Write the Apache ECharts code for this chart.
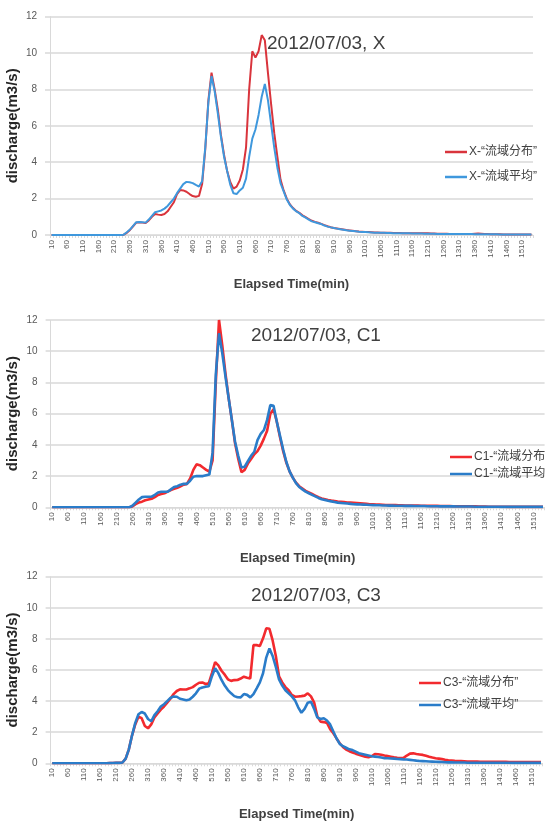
<!DOCTYPE html>
<html>
<head>
<meta charset="utf-8">
<script src="https://cdn.jsdelivr.net/npm/echarts@6/dist/echarts.min.js"></script>
<style>
html,body{margin:0;padding:0;background:#fff;}
#chart{width:545px;height:824px;}
</style>
</head>
<body>
<div id="chart"></div>
<script>
// Elapsed time categories (min)
var categories = [
  10,20,30,40,50,60,70,80,90,100,
  110,120,130,140,150,160,170,180,190,200,
  210,220,230,240,250,260,270,280,290,300,
  310,320,330,340,350,360,370,380,390,400,
  410,420,430,440,450,460,470,480,490,500,
  510,520,530,540,550,560,570,580,590,600,
  610,620,630,640,650,660,670,680,690,700,
  710,720,730,740,750,760,770,780,790,800,
  810,820,830,840,850,860,870,880,890,900,
  910,920,930,940,950,960,970,980,990,1000,
  1010,1020,1030,1040,1050,1060,1070,1080,1090,1100,
  1110,1120,1130,1140,1150,1160,1170,1180,1190,1200,
  1210,1220,1230,1240,1250,1260,1270,1280,1290,1300,
  1310,1320,1330,1340,1350,1360,1370,1380,1390,1400,
  1410,1420,1430,1440,1450,1460,1470,1480,1490,1500,
  1510,1520,1530,1540
];

var yTicks = [0, 2, 4, 6, 8, 10, 12];

var titles = ['2012/07/03, X', '2012/07/03, C1', '2012/07/03, C3'];
var namesDist = ['X-“流域分布”', 'C1-“流域分布”', 'C3-“流域分布”'];
var namesMean = ['X-“流域平均”', 'C1-“流域平均”', 'C3-“流域平均”'];

// Panel 1 : X
var xDist = [
  0,0,0,0,0,0,0,0,0,0,
  0,0,0,0,0,0,0,0,0,0,
  0,0,0,0.02,0.12,0.28,0.48,0.68,0.7,0.68,
  0.66,0.8,1.0,1.15,1.12,1.1,1.15,1.3,1.55,1.8,
  2.25,2.47,2.45,2.38,2.25,2.14,2.1,2.15,2.8,4.7,
  7.4,8.92,8.0,6.9,5.5,4.4,3.5,2.9,2.55,2.66,
  3.0,3.6,4.8,8.0,10.1,9.75,10.1,10.99,10.7,8.9,
  7.2,5.6,4.3,3.05,2.45,2.0,1.68,1.48,1.32,1.22,
  1.08,0.98,0.88,0.78,0.72,0.67,0.61,0.54,0.48,0.43,
  0.39,0.36,0.33,0.3,0.27,0.25,0.23,0.21,0.19,0.18,
  0.17,0.16,0.15,0.14,0.14,0.13,0.13,0.12,0.12,0.11,
  0.11,0.11,0.1,0.1,0.1,0.1,0.1,0.1,0.09,0.09,
  0.09,0.08,0.08,0.07,0.07,0.07,0.07,0.06,0.06,0.06,
  0.06,0.06,0.06,0.06,0.06,0.07,0.08,0.07,0.05,0.05,
  0.04,0.04,0.04,0.04,0.03,0.03,0.03,0.03,0.03,0.03,
  0.03,0.03,0.03,0.03
];
var xMean = [
  0,0,0,0,0,0,0,0,0,0,
  0,0,0,0,0,0,0,0,0,0,
  0,0,0,0.02,0.15,0.3,0.5,0.7,0.72,0.7,
  0.68,0.85,1.05,1.25,1.3,1.35,1.45,1.6,1.8,2.0,
  2.3,2.55,2.8,2.92,2.9,2.85,2.75,2.66,2.95,4.8,
  7.3,8.74,7.9,6.7,5.4,4.3,3.5,2.75,2.29,2.25,
  2.45,2.6,3.1,4.3,5.3,5.8,6.6,7.6,8.3,7.4,
  6.1,4.8,3.7,2.85,2.4,1.95,1.65,1.45,1.3,1.2,
  1.05,0.95,0.85,0.75,0.7,0.65,0.6,0.52,0.46,0.42,
  0.38,0.35,0.32,0.29,0.26,0.24,0.22,0.2,0.18,0.17,
  0.16,0.15,0.14,0.13,0.13,0.12,0.12,0.11,0.11,0.1,
  0.1,0.1,0.09,0.09,0.09,0.08,0.08,0.08,0.08,0.07,
  0.07,0.07,0.07,0.06,0.06,0.06,0.06,0.06,0.05,0.05,
  0.05,0.05,0.05,0.05,0.05,0.04,0.04,0.04,0.04,0.04,
  0.04,0.04,0.04,0.03,0.03,0.03,0.03,0.03,0.03,0.03,
  0.03,0.03,0.03,0.03
];

// Panel 2 : C1
var c1Dist = [
  0,0,0,0,0,0,0,0,0,0,
  0,0,0,0,0,0,0,0,0,0,
  0,0,0,0,0,0.05,0.2,0.3,0.36,0.45,
  0.5,0.55,0.65,0.79,0.85,0.9,1.0,1.1,1.18,1.25,
  1.35,1.45,1.5,1.85,2.4,2.75,2.7,2.55,2.4,2.28,
  3.0,8.0,12.0,10.4,8.6,7.0,5.6,4.1,3.1,2.25,
  2.4,2.8,3.1,3.4,3.6,3.95,4.4,4.9,6.0,6.28,
  5.5,4.5,3.6,2.85,2.3,1.9,1.58,1.35,1.2,1.05,
  0.95,0.85,0.75,0.65,0.57,0.52,0.47,0.43,0.4,0.37,
  0.35,0.33,0.31,0.3,0.29,0.28,0.26,0.24,0.22,0.2,
  0.19,0.18,0.17,0.16,0.15,0.15,0.14,0.14,0.13,0.13,
  0.12,0.12,0.11,0.11,0.11,0.1,0.1,0.1,0.09,0.09,
  0.09,0.08,0.08,0.08,0.08,0.07,0.07,0.07,0.07,0.07,
  0.07,0.06,0.06,0.05,0.05,0.05,0.04,0.04,0.04,0.04,
  0.04,0.04,0.03,0.03,0.03,0.03,0.03,0.03,0.03,0.03,
  0.03,0.03,0.03,0.03
];
var c1Mean = [
  0,0,0,0,0,0,0,0,0,0,
  0,0,0,0,0,0,0,0,0,0,
  0,0,0,0,0,0.1,0.3,0.5,0.65,0.68,
  0.68,0.68,0.8,0.95,1.0,1.0,1.0,1.15,1.3,1.35,
  1.45,1.5,1.5,1.7,1.96,2.0,2.0,2.0,2.05,2.1,
  3.5,8.5,11.15,9.9,8.4,7.0,5.6,4.2,3.3,2.55,
  2.6,2.95,3.3,3.56,4.3,4.7,4.95,5.6,6.55,6.5,
  5.5,4.6,3.7,2.9,2.3,1.9,1.55,1.3,1.15,1.0,
  0.9,0.8,0.7,0.6,0.52,0.47,0.42,0.38,0.34,0.3,
  0.28,0.26,0.24,0.22,0.2,0.19,0.18,0.17,0.16,0.15,
  0.14,0.13,0.13,0.12,0.12,0.11,0.11,0.1,0.1,0.1,
  0.09,0.09,0.09,0.08,0.08,0.08,0.08,0.07,0.07,0.07,
  0.07,0.06,0.06,0.06,0.06,0.06,0.05,0.05,0.05,0.05,
  0.05,0.05,0.04,0.04,0.04,0.04,0.04,0.04,0.04,0.04,
  0.03,0.03,0.03,0.03,0.03,0.03,0.03,0.03,0.03,0.03,
  0.03,0.03,0.03,0.03
];

// Panel 3 : C3
var c3Dist = [
  0,0,0,0,0,0,0,0,0,0,
  0,0,0,0,0,0,0,0,0.01,0.02,
  0.03,0.03,0.05,0.3,0.9,1.8,2.5,3.0,2.9,2.4,
  2.25,2.5,2.95,3.2,3.45,3.65,3.9,4.15,4.45,4.65,
  4.76,4.75,4.75,4.82,4.9,5.05,5.18,5.2,5.1,5.14,
  5.8,6.5,6.3,5.95,5.7,5.4,5.3,5.35,5.36,5.45,
  5.57,5.5,5.46,7.6,7.6,7.55,8.04,8.68,8.65,7.9,
  6.9,5.6,5.2,4.9,4.7,4.4,4.28,4.3,4.32,4.35,
  4.5,4.3,3.9,3.0,2.68,2.65,2.6,2.2,1.93,1.6,
  1.29,1.05,0.88,0.78,0.7,0.62,0.55,0.48,0.42,0.39,
  0.45,0.6,0.58,0.55,0.5,0.46,0.42,0.38,0.35,0.33,
  0.35,0.5,0.62,0.64,0.6,0.57,0.54,0.48,0.42,0.37,
  0.33,0.3,0.27,0.23,0.2,0.18,0.16,0.15,0.14,0.13,
  0.12,0.12,0.11,0.11,0.1,0.1,0.1,0.1,0.09,0.09,
  0.09,0.09,0.09,0.08,0.08,0.08,0.08,0.08,0.08,0.08,
  0.08,0.08,0.08,0.08
];
var c3Mean = [
  0,0,0,0,0,0,0,0,0,0,
  0,0,0,0,0,0,0,0,0.01,0.02,
  0.03,0.03,0.05,0.3,0.9,1.8,2.6,3.15,3.3,3.2,
  2.85,2.7,3.1,3.35,3.65,3.8,4.0,4.2,4.3,4.28,
  4.15,4.1,4.05,4.1,4.28,4.5,4.8,4.88,4.93,4.95,
  5.6,6.11,5.8,5.36,5.0,4.71,4.5,4.32,4.25,4.24,
  4.45,4.4,4.24,4.45,4.82,5.2,5.79,6.8,7.39,6.9,
  6.2,5.4,5.0,4.7,4.5,4.3,4.05,3.6,3.25,3.5,
  3.9,3.96,3.5,2.95,2.85,2.9,2.75,2.5,2.05,1.6,
  1.25,1.1,1.0,0.9,0.85,0.75,0.65,0.6,0.55,0.5,
  0.45,0.43,0.4,0.37,0.33,0.32,0.31,0.3,0.28,0.27,
  0.25,0.24,0.22,0.2,0.17,0.15,0.14,0.13,0.12,0.11,
  0.1,0.09,0.08,0.07,0.06,0.06,0.05,0.05,0.05,0.05,
  0.04,0.04,0.04,0.04,0.04,0.04,0.04,0.04,0.04,0.04,
  0.04,0.04,0.04,0.04,0.03,0.03,0.03,0.03,0.03,0.03,
  0.03,0.03,0.03,0.03
];

var distSeries = [xDist, c1Dist, c3Dist];
var meanSeries = [xMean, c1Mean, c3Mean];

// layout / style
var FONT = 'Liberation Sans, Arial, sans-serif';
var CJK = 'Liberation Sans, Noto Sans CJK SC, sans-serif';
var grids = [
  {left: 50, top: 16.7, width: 483, height: 218.3},
  {left: 50.6, top: 320, width: 494, height: 187.3},
  {left: 50.6, top: 576.7, width: 492, height: 186.6}
];
var titlePos = [{left: 267, top: 34}, {left: 251, top: 326}, {left: 251, top: 586}];
var legendPos = [{left: 440, top: 140}, {left: 445, top: 445}, {left: 414, top: 671}];
var legendGap = [11, 3, 8];
var xNameGap = [43, 45, 45];
var redColors = ['#d9343c', '#f22a2e', '#f22a2e'];
var blueColors = ['#3f98dd', '#2a7cc9', '#2a7cc9'];
var lineWidths = [2, 2.6, 2.6];

var option = {
  animation: false,
  backgroundColor: '#ffffff',
  title: [], grid: [], xAxis: [], yAxis: [], legend: [], series: []
};

for (var i = 0; i < 3; i++) {
  option.grid.push(Object.assign({outerBoundsMode: 'none', containLabel: false}, grids[i]));
  option.title.push({
    text: titles[i], left: titlePos[i].left, top: titlePos[i].top, padding: 0,
    textStyle: {fontFamily: FONT, fontSize: 19, fontWeight: 'normal', color: '#404040'}
  });
  option.xAxis.push({
    type: 'category', gridIndex: i, data: categories, boundaryGap: true,
    name: 'Elapsed Time(min)', nameLocation: 'middle', nameGap: xNameGap[i], nameMoveOverlap: false,
    nameTextStyle: {fontFamily: FONT, fontSize: 13, fontWeight: 'bold', color: '#404040'},
    axisLine: {lineStyle: {color: '#d9d9d9', width: 1}},
    axisTick: {show: true, interval: 0, length: 3, lineStyle: {color: '#d9d9d9'}},
    axisLabel: {interval: 4, rotate: 90, fontSize: 8, margin: 5, color: '#595959', fontFamily: FONT},
    splitLine: {show: false}
  });
  option.yAxis.push({
    type: 'value', gridIndex: i, min: yTicks[0], max: yTicks[yTicks.length - 1], interval: 2,
    name: 'discharge(m3/s)', nameLocation: 'middle', nameGap: 30, nameMoveOverlap: false,
    nameTextStyle: {fontFamily: FONT, fontSize: 15, fontWeight: 'bold', color: '#262626'},
    axisLine: {show: true, lineStyle: {color: '#d9d9d9', width: 1}},
    axisTick: {show: true, length: 5, lineStyle: {color: '#d9d9d9', width: 1.5}},
    axisLabel: {fontSize: 10, margin: 13, color: '#595959', fontFamily: FONT},
    splitLine: {lineStyle: {color: '#d9d9d9', width: 1.5}}
  });
  option.legend.push({
    orient: 'vertical', left: legendPos[i].left, top: legendPos[i].top,
    icon: 'rect', itemWidth: 22, itemHeight: 2.5, itemGap: legendGap[i],
    data: [namesDist[i], namesMean[i]],
    textStyle: {fontFamily: CJK, fontSize: 12, lineHeight: 14, color: '#404040', padding: [0, 0, 0, -3]}
  });
  option.series.push({
    type: 'line', name: namesDist[i], xAxisIndex: i, yAxisIndex: i,
    data: distSeries[i], showSymbol: false, symbol: 'none',
    lineStyle: {color: redColors[i], width: lineWidths[i]}, itemStyle: {color: redColors[i]}
  });
  option.series.push({
    type: 'line', name: namesMean[i], xAxisIndex: i, yAxisIndex: i,
    data: meanSeries[i], showSymbol: false, symbol: 'none',
    lineStyle: {color: blueColors[i], width: lineWidths[i]}, itemStyle: {color: blueColors[i]}
  });
}

var chart = echarts.init(document.getElementById('chart'), null, {renderer: 'canvas'});
chart.setOption(option);
</script>
</body>
</html>
